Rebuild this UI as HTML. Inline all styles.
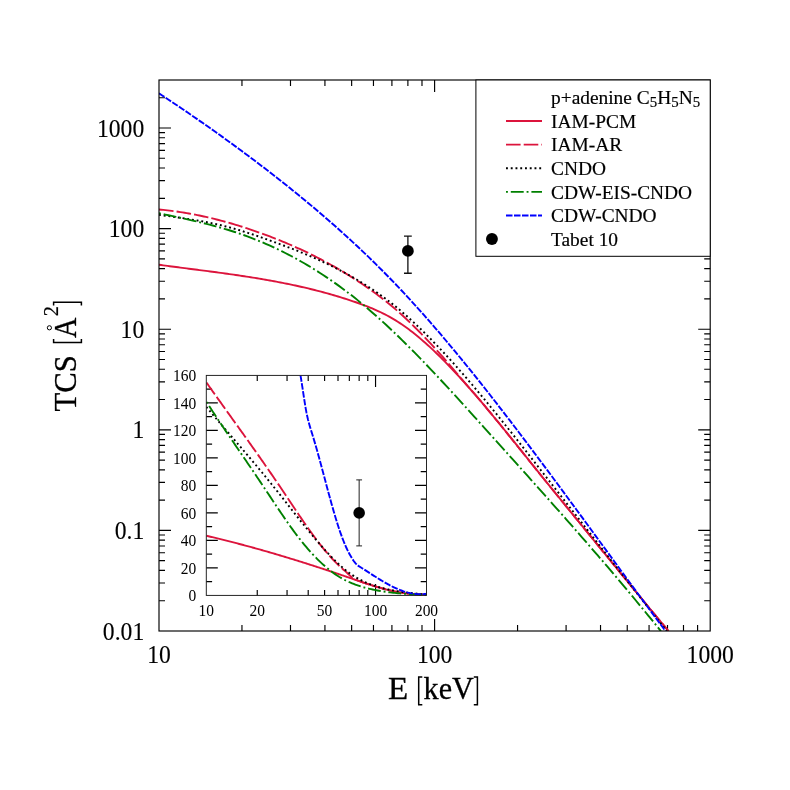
<!DOCTYPE html>
<html><head><meta charset="utf-8"><title>TCS p+adenine</title>
<style>
html,body{margin:0;padding:0;background:#fff;}
body{width:790px;height:790px;overflow:hidden;font-family:"Liberation Serif",serif;}
#wrap{width:790px;height:790px;will-change:transform;}
svg{display:block;}
text{font-family:"Liberation Serif",serif;fill:#000;}
.tk{font-size:25px;stroke:#000;stroke-width:0.12px;}
.itk{font-size:17px;}
.lg{font-size:19.4px;stroke:#000;stroke-width:0.18px;}
.ax{font-size:31.5px;stroke:#000;stroke-width:0.3px;}
</style></head><body>
<div id="wrap"><svg width="790" height="790" viewBox="0 0 790 790">
<rect x="0" y="0" width="790" height="790" fill="#fff"/>
<defs>
<clipPath id="cm"><rect x="159.0" y="80.0" width="551.2" height="551.0"/></clipPath>
<clipPath id="ci"><rect x="206.3" y="375.4" width="220.2" height="220.0"/></clipPath>
</defs>
<path d="M241.96,631.0 v-6 M241.96,80.0 v6 M290.49,631.0 v-6 M290.49,80.0 v6 M324.93,631.0 v-6 M324.93,80.0 v6 M351.64,631.0 v-6 M351.64,80.0 v6 M373.46,631.0 v-6 M373.46,80.0 v6 M391.91,631.0 v-6 M391.91,80.0 v6 M407.89,631.0 v-6 M407.89,80.0 v6 M421.99,631.0 v-6 M421.99,80.0 v6 M434.60,631.0 v-12 M434.60,80.0 v12 M517.56,631.0 v-6 M517.56,80.0 v6 M566.09,631.0 v-6 M566.09,80.0 v6 M600.53,631.0 v-6 M600.53,80.0 v6 M627.24,631.0 v-6 M627.24,80.0 v6 M649.06,631.0 v-6 M649.06,80.0 v6 M667.51,631.0 v-6 M667.51,80.0 v6 M683.49,631.0 v-6 M683.49,80.0 v6 M697.59,631.0 v-6 M697.59,80.0 v6 M159.0,600.72 h6 M710.2,600.72 h-6 M159.0,583.00 h6 M710.2,583.00 h-6 M159.0,570.43 h6 M710.2,570.43 h-6 M159.0,560.68 h6 M710.2,560.68 h-6 M159.0,552.72 h6 M710.2,552.72 h-6 M159.0,545.98 h6 M710.2,545.98 h-6 M159.0,540.15 h6 M710.2,540.15 h-6 M159.0,535.00 h6 M710.2,535.00 h-6 M159.0,530.40 h12 M710.2,530.40 h-12 M159.0,500.12 h6 M710.2,500.12 h-6 M159.0,482.40 h6 M710.2,482.40 h-6 M159.0,469.83 h6 M710.2,469.83 h-6 M159.0,460.08 h6 M710.2,460.08 h-6 M159.0,452.12 h6 M710.2,452.12 h-6 M159.0,445.38 h6 M710.2,445.38 h-6 M159.0,439.55 h6 M710.2,439.55 h-6 M159.0,434.40 h6 M710.2,434.40 h-6 M159.0,429.80 h12 M710.2,429.80 h-12 M159.0,399.52 h6 M710.2,399.52 h-6 M159.0,381.80 h6 M710.2,381.80 h-6 M159.0,369.23 h6 M710.2,369.23 h-6 M159.0,359.48 h6 M710.2,359.48 h-6 M159.0,351.52 h6 M710.2,351.52 h-6 M159.0,344.78 h6 M710.2,344.78 h-6 M159.0,338.95 h6 M710.2,338.95 h-6 M159.0,333.80 h6 M710.2,333.80 h-6 M159.0,329.20 h12 M710.2,329.20 h-12 M159.0,298.92 h6 M710.2,298.92 h-6 M159.0,281.20 h6 M710.2,281.20 h-6 M159.0,268.63 h6 M710.2,268.63 h-6 M159.0,258.88 h6 M710.2,258.88 h-6 M159.0,250.92 h6 M710.2,250.92 h-6 M159.0,244.18 h6 M710.2,244.18 h-6 M159.0,238.35 h6 M710.2,238.35 h-6 M159.0,233.20 h6 M710.2,233.20 h-6 M159.0,228.60 h12 M710.2,228.60 h-12 M159.0,198.32 h6 M710.2,198.32 h-6 M159.0,180.60 h6 M710.2,180.60 h-6 M159.0,168.03 h6 M710.2,168.03 h-6 M159.0,158.28 h6 M710.2,158.28 h-6 M159.0,150.32 h6 M710.2,150.32 h-6 M159.0,143.58 h6 M710.2,143.58 h-6 M159.0,137.75 h6 M710.2,137.75 h-6 M159.0,132.60 h6 M710.2,132.60 h-6 M159.0,128.00 h12 M710.2,128.00 h-12 M159.0,97.71 h6 M710.2,97.71 h-6" stroke="#000" stroke-width="1.15" fill="none" stroke-width="1.1"/>
<g clip-path="url(#cm)" fill="none" stroke-width="1.9">
<path d="M159.00,264.76 L161.13,265.05 L163.26,265.34 L165.40,265.62 L167.53,265.91 L169.66,266.19 L171.79,266.47 L173.92,266.75 L176.05,267.03 L178.19,267.31 L180.32,267.59 L182.45,267.86 L184.58,268.14 L186.71,268.41 L188.85,268.69 L190.98,268.96 L193.11,269.24 L195.24,269.51 L197.37,269.79 L199.50,270.07 L201.64,270.34 L203.77,270.62 L205.90,270.90 L208.03,271.18 L210.16,271.46 L212.29,271.74 L214.43,272.03 L216.56,272.31 L218.69,272.60 L220.82,272.89 L222.95,273.18 L225.09,273.48 L227.22,273.77 L229.35,274.07 L231.48,274.38 L233.61,274.68 L235.74,274.99 L237.88,275.30 L240.01,275.62 L242.14,275.94 L244.27,276.26 L246.40,276.59 L248.54,276.92 L250.67,277.25 L252.80,277.59 L254.93,277.93 L257.06,278.28 L259.19,278.64 L261.33,278.99 L263.46,279.36 L265.59,279.73 L267.72,280.10 L269.85,280.48 L271.99,280.86 L274.12,281.26 L276.25,281.65 L278.38,282.06 L280.51,282.47 L282.64,282.88 L284.78,283.31 L286.91,283.73 L289.04,284.17 L291.17,284.62 L293.30,285.07 L295.44,285.53 L297.57,285.99 L299.70,286.47 L301.83,286.95 L303.96,287.44 L306.09,287.94 L308.23,288.44 L310.36,288.96 L312.49,289.48 L314.62,290.01 L316.75,290.55 L318.88,291.11 L321.02,291.66 L323.15,292.23 L325.28,292.81 L327.41,293.40 L329.54,294.00 L331.68,294.61 L333.81,295.23 L335.94,295.86 L338.07,296.50 L340.20,297.15 L342.33,297.81 L344.47,298.48 L346.60,299.16 L348.73,299.86 L350.86,300.56 L352.99,301.28 L355.13,302.01 L357.26,302.75 L359.39,303.51 L361.52,304.28 L363.65,305.07 L365.78,305.88 L367.92,306.71 L370.05,307.56 L372.18,308.44 L374.31,309.35 L376.44,310.29 L378.58,311.26 L380.71,312.26 L382.84,313.30 L384.97,314.37 L387.10,315.49 L389.23,316.64 L391.37,317.84 L393.50,319.08 L395.63,320.37 L397.76,321.71 L399.89,323.10 L402.03,324.53 L404.16,326.01 L406.29,327.53 L408.42,329.10 L410.55,330.71 L412.68,332.36 L414.82,334.05 L416.95,335.77 L419.08,337.54 L421.21,339.35 L423.34,341.19 L425.47,343.07 L427.61,344.98 L429.74,346.92 L431.87,348.90 L434.00,350.91 L436.13,352.95 L438.27,355.02 L440.40,357.12 L442.53,359.25 L444.66,361.40 L446.79,363.58 L448.92,365.78 L451.06,368.01 L453.19,370.27 L455.32,372.54 L457.45,374.84 L459.58,377.16 L461.72,379.51 L463.85,381.87 L465.98,384.25 L468.11,386.65 L470.24,389.07 L472.37,391.51 L474.51,393.97 L476.64,396.44 L478.77,398.93 L480.90,401.43 L483.03,403.95 L485.17,406.48 L487.30,409.02 L489.43,411.58 L491.56,414.15 L493.69,416.73 L495.82,419.32 L497.96,421.92 L500.09,424.52 L502.22,427.14 L504.35,429.76 L506.48,432.40 L508.62,435.03 L510.75,437.67 L512.88,440.32 L515.01,442.97 L517.14,445.63 L519.27,448.28 L521.41,450.94 L523.54,453.60 L525.67,456.26 L527.80,458.93 L529.93,461.59 L532.06,464.25 L534.20,466.90 L536.33,469.56 L538.46,472.21 L540.59,474.85 L542.72,477.50 L544.86,480.13 L546.99,482.77 L549.12,485.40 L551.25,488.02 L553.38,490.65 L555.51,493.27 L557.65,495.88 L559.78,498.50 L561.91,501.11 L564.04,503.72 L566.17,506.33 L568.31,508.95 L570.44,511.56 L572.57,514.17 L574.70,516.78 L576.83,519.39 L578.96,522.00 L581.10,524.61 L583.23,527.23 L585.36,529.84 L587.49,532.46 L589.62,535.07 L591.76,537.69 L593.89,540.31 L596.02,542.92 L598.15,545.54 L600.28,548.16 L602.41,550.78 L604.55,553.39 L606.68,556.01 L608.81,558.62 L610.94,561.24 L613.07,563.85 L615.21,566.46 L617.34,569.07 L619.47,571.68 L621.60,574.29 L623.73,576.90 L625.86,579.51 L628.00,582.11 L630.13,584.71 L632.26,587.31 L634.39,589.91 L636.52,592.50 L638.65,595.09 L640.79,597.68 L642.92,600.27 L645.05,602.85 L647.18,605.43 L649.31,608.01 L651.45,610.58 L653.58,613.15 L655.71,615.72 L657.84,618.28 L659.97,620.84 L662.10,623.40 L664.24,625.95 L666.37,628.50 L668.50,631.04" stroke="#dc143c"/>
<path d="M159.00,209.50 L161.13,209.69 L163.26,209.91 L165.40,210.13 L167.53,210.37 L169.66,210.62 L171.79,210.89 L173.92,211.17 L176.05,211.46 L178.19,211.77 L180.32,212.09 L182.45,212.42 L184.58,212.76 L186.71,213.12 L188.85,213.49 L190.98,213.88 L193.11,214.28 L195.24,214.69 L197.37,215.11 L199.50,215.55 L201.64,215.99 L203.77,216.45 L205.90,216.93 L208.03,217.41 L210.16,217.91 L212.29,218.42 L214.43,218.94 L216.56,219.47 L218.69,220.02 L220.82,220.57 L222.95,221.14 L225.09,221.72 L227.22,222.32 L229.35,222.92 L231.48,223.53 L233.61,224.16 L235.74,224.80 L237.88,225.45 L240.01,226.11 L242.14,226.78 L244.27,227.46 L246.40,228.15 L248.54,228.86 L250.67,229.57 L252.80,230.30 L254.93,231.03 L257.06,231.78 L259.19,232.54 L261.33,233.30 L263.46,234.08 L265.59,234.87 L267.72,235.67 L269.85,236.48 L271.99,237.30 L274.12,238.12 L276.25,238.97 L278.38,239.82 L280.51,240.68 L282.64,241.55 L284.78,242.44 L286.91,243.34 L289.04,244.25 L291.17,245.17 L293.30,246.10 L295.44,247.05 L297.57,248.01 L299.70,248.98 L301.83,249.97 L303.96,250.97 L306.09,251.98 L308.23,253.00 L310.36,254.04 L312.49,255.09 L314.62,256.16 L316.75,257.24 L318.88,258.34 L321.02,259.45 L323.15,260.57 L325.28,261.71 L327.41,262.86 L329.54,264.03 L331.68,265.22 L333.81,266.42 L335.94,267.63 L338.07,268.87 L340.20,270.11 L342.33,271.38 L344.47,272.66 L346.60,273.96 L348.73,275.27 L350.86,276.60 L352.99,277.95 L355.13,279.32 L357.26,280.70 L359.39,282.10 L361.52,283.52 L363.65,284.96 L365.78,286.42 L367.92,287.90 L370.05,289.40 L372.18,290.93 L374.31,292.48 L376.44,294.05 L378.58,295.65 L380.71,297.27 L382.84,298.92 L384.97,300.60 L387.10,302.30 L389.23,304.03 L391.37,305.79 L393.50,307.58 L395.63,309.40 L397.76,311.25 L399.89,313.14 L402.03,315.05 L404.16,317.00 L406.29,318.98 L408.42,320.99 L410.55,323.03 L412.68,325.10 L414.82,327.20 L416.95,329.33 L419.08,331.48 L421.21,333.66 L423.34,335.87 L425.47,338.10 L427.61,340.35 L429.74,342.63 L431.87,344.92 L434.00,347.24 L436.13,349.58 L438.27,351.93 L440.40,354.30 L442.53,356.71 L444.66,359.16 L446.79,361.65 L448.92,364.15 L451.06,366.66 L453.19,369.16 L455.32,371.67 L457.45,374.17 L459.58,376.66 L461.72,379.14 L463.85,381.62 L465.98,384.09 L468.11,386.56 L470.24,389.02 L472.37,391.49 L474.51,393.96 L476.64,396.44 L478.77,398.93 L480.90,401.43 L483.03,403.95 L485.17,406.48 L487.30,409.02 L489.43,411.58 L491.56,414.15 L493.69,416.73 L495.82,419.32 L497.96,421.92 L500.09,424.52 L502.22,427.14 L504.35,429.76 L506.48,432.40 L508.62,435.03 L510.75,437.67 L512.88,440.32 L515.01,442.97 L517.14,445.63 L519.27,448.28 L521.41,450.94 L523.54,453.60 L525.67,456.26 L527.80,458.93 L529.93,461.59 L532.06,464.25 L534.20,466.90 L536.33,469.56 L538.46,472.21 L540.59,474.85 L542.72,477.50 L544.86,480.13 L546.99,482.77 L549.12,485.40 L551.25,488.02 L553.38,490.65 L555.51,493.27 L557.65,495.88 L559.78,498.50 L561.91,501.11 L564.04,503.72 L566.17,506.33 L568.31,508.95 L570.44,511.56 L572.57,514.17 L574.70,516.78 L576.83,519.39 L578.96,522.00 L581.10,524.61 L583.23,527.23 L585.36,529.84 L587.49,532.46 L589.62,535.07 L591.76,537.69 L593.89,540.31 L596.02,542.92 L598.15,545.54 L600.28,548.16 L602.41,550.78 L604.55,553.39 L606.68,556.01 L608.81,558.62 L610.94,561.24 L613.07,563.85 L615.21,566.46 L617.34,569.07 L619.47,571.68 L621.60,574.29 L623.73,576.90 L625.86,579.51 L628.00,582.11 L630.13,584.71 L632.26,587.31 L634.39,589.91 L636.52,592.50 L638.65,595.09 L640.79,597.68 L642.92,600.27 L645.05,602.85 L647.18,605.43 L649.31,608.01 L651.45,610.58 L653.58,613.15 L655.71,615.72 L657.84,618.28 L659.97,620.84 L662.10,623.40 L664.24,625.95 L666.37,628.50 L668.50,631.04" stroke="#dc143c" stroke-dasharray="14.6,3.1"/>
<path d="M159.00,214.90 L162.19,215.33 L165.39,215.75 L168.58,216.18 L171.77,216.62 L174.97,217.06 L178.16,217.51 L181.36,217.97 L184.55,218.44 L187.74,218.93 L190.94,219.43 L194.13,219.95 L197.32,220.48 L200.52,221.04 L203.71,221.62 L206.91,222.23 L210.10,222.86 L213.29,223.52 L216.49,224.21 L219.68,224.94 L222.87,225.69 L226.07,226.48 L229.26,227.31 L232.46,228.18 L235.65,229.08 L238.84,230.02 L242.04,231.00 L245.23,232.00 L248.42,233.04 L251.62,234.09 L254.81,235.17 L258.01,236.26 L261.20,237.38 L264.39,238.50 L267.59,239.64 L270.78,240.78 L273.97,241.94 L277.17,243.11 L280.36,244.29 L283.55,245.49 L286.75,246.70 L289.94,247.93 L293.14,249.17 L296.33,250.44 L299.52,251.73 L302.72,253.03 L305.91,254.36 L309.10,255.72 L312.30,257.09 L315.49,258.49 L318.69,259.92 L321.88,261.38 L325.07,262.87 L328.27,264.39 L331.46,265.95 L334.65,267.53 L337.85,269.16 L341.04,270.82 L344.24,272.52 L347.43,274.26 L350.62,276.04 L353.82,277.86 L357.01,279.73 L360.20,281.64 L363.40,283.60 L366.59,285.61 L369.78,287.68 L372.98,289.80 L376.17,291.97 L379.37,294.20 L382.56,296.50 L385.75,298.85 L388.95,301.28 L392.14,303.76 L395.33,306.32 L398.53,308.95 L401.72,311.65 L404.92,314.43 L408.11,317.27 L411.30,320.17 L414.50,323.14 L417.69,326.17 L420.88,329.24 L424.08,332.37 L427.27,335.55 L430.47,338.78 L433.66,342.05 L436.85,345.37 L440.05,348.73 L443.24,352.13 L446.43,355.58 L449.63,359.07 L452.82,362.59 L456.02,366.16 L459.21,369.76 L462.40,373.39 L465.60,377.06 L468.79,380.76 L471.98,384.50 L475.18,388.26 L478.37,392.05 L481.56,395.87 L484.76,399.72 L487.95,403.59 L491.15,407.48 L494.34,411.40 L497.53,415.34 L500.73,419.29 L503.92,423.27 L507.11,427.26 L510.31,431.27 L513.50,435.29 L516.70,439.33 L519.89,443.38 L523.08,447.43 L526.28,451.50 L529.47,455.58 L532.66,459.66 L535.86,463.75 L539.05,467.84 L542.25,471.94 L545.44,476.04 L548.63,480.14 L551.83,484.23 L555.02,488.33 L558.21,492.43 L561.41,496.54 L564.60,500.64 L567.79,504.74 L570.99,508.84 L574.18,512.94 L577.38,517.04 L580.57,521.13 L583.76,525.23 L586.96,529.33 L590.15,533.42 L593.34,537.52 L596.54,541.61 L599.73,545.70 L602.93,549.79 L606.12,553.88 L609.31,557.97 L612.51,562.05 L615.70,566.13 L618.89,570.21 L622.09,574.29 L625.28,578.36 L628.48,582.43 L631.67,586.50 L634.86,590.56 L638.06,594.62 L641.25,598.68 L644.44,602.73 L647.64,606.78 L650.83,610.83 L654.03,614.87 L657.22,618.90 L660.41,622.94 L663.61,626.96 L666.80,630.99" stroke="#000" stroke-dasharray="1.9,2.85"/>
<path d="M159.00,213.19 L162.16,213.88 L165.31,214.56 L168.47,215.24 L171.63,215.92 L174.78,216.61 L177.94,217.29 L181.10,217.98 L184.25,218.68 L187.41,219.38 L190.57,220.10 L193.72,220.82 L196.88,221.56 L200.04,222.31 L203.19,223.08 L206.35,223.86 L209.51,224.67 L212.66,225.50 L215.82,226.35 L218.98,227.22 L222.13,228.12 L225.29,229.05 L228.45,230.00 L231.60,230.99 L234.76,232.01 L237.92,233.06 L241.07,234.15 L244.23,235.27 L247.38,236.42 L250.54,237.61 L253.70,238.83 L256.85,240.09 L260.01,241.38 L263.17,242.70 L266.32,244.07 L269.48,245.46 L272.64,246.90 L275.79,248.37 L278.95,249.87 L282.11,251.42 L285.26,253.00 L288.42,254.62 L291.58,256.27 L294.73,257.97 L297.89,259.70 L301.05,261.48 L304.20,263.29 L307.36,265.14 L310.52,267.03 L313.67,268.96 L316.83,270.93 L319.99,272.95 L323.14,275.00 L326.30,277.09 L329.46,279.23 L332.61,281.41 L335.77,283.63 L338.93,285.89 L342.08,288.20 L345.24,290.54 L348.40,292.94 L351.55,295.37 L354.71,297.85 L357.87,300.38 L361.02,302.95 L364.18,305.56 L367.34,308.22 L370.49,310.92 L373.65,313.67 L376.81,316.46 L379.96,319.28 L383.12,322.15 L386.28,325.05 L389.43,327.99 L392.59,330.97 L395.75,333.98 L398.90,337.02 L402.06,340.10 L405.22,343.21 L408.37,346.34 L411.53,349.51 L414.68,352.70 L417.84,355.92 L421.00,359.17 L424.15,362.44 L427.31,365.73 L430.47,369.04 L433.62,372.38 L436.78,375.73 L439.94,379.10 L443.09,382.49 L446.25,385.90 L449.41,389.32 L452.56,392.75 L455.72,396.20 L458.88,399.66 L462.03,403.13 L465.19,406.60 L468.35,410.09 L471.50,413.58 L474.66,417.08 L477.82,420.58 L480.97,424.09 L484.13,427.59 L487.29,431.10 L490.44,434.61 L493.60,438.12 L496.76,441.63 L499.91,445.14 L503.07,448.64 L506.23,452.15 L509.38,455.66 L512.54,459.17 L515.70,462.68 L518.85,466.19 L522.01,469.70 L525.17,473.22 L528.32,476.74 L531.48,480.26 L534.64,483.78 L537.79,487.31 L540.95,490.84 L544.11,494.38 L547.26,497.92 L550.42,501.46 L553.58,505.01 L556.73,508.57 L559.89,512.13 L563.05,515.70 L566.20,519.28 L569.36,522.86 L572.52,526.45 L575.67,530.04 L578.83,533.65 L581.98,537.26 L585.14,540.88 L588.30,544.51 L591.45,548.15 L594.61,551.80 L597.77,555.46 L600.92,559.12 L604.08,562.80 L607.24,566.49 L610.39,570.19 L613.55,573.90 L616.71,577.63 L619.86,581.36 L623.02,585.11 L626.18,588.87 L629.33,592.65 L632.49,596.43 L635.65,600.24 L638.80,604.05 L641.96,607.88 L645.12,611.73 L648.27,615.59 L651.43,619.46 L654.59,623.35 L657.74,627.26 L660.90,631.18" stroke="#008000" stroke-dasharray="1.9,2.9,12.9,2.9"/>
<path d="M159.00,93.32 L162.19,95.43 L165.37,97.54 L168.56,99.67 L171.74,101.80 L174.93,103.94 L178.11,106.08 L181.30,108.24 L184.48,110.40 L187.67,112.58 L190.86,114.76 L194.04,116.95 L197.23,119.15 L200.41,121.36 L203.60,123.58 L206.78,125.81 L209.97,128.05 L213.15,130.30 L216.34,132.56 L219.53,134.83 L222.71,137.12 L225.90,139.41 L229.08,141.71 L232.27,144.03 L235.45,146.36 L238.64,148.70 L241.82,151.05 L245.01,153.41 L248.19,155.78 L251.38,158.17 L254.57,160.57 L257.75,162.98 L260.94,165.41 L264.12,167.85 L267.31,170.30 L270.49,172.76 L273.68,175.24 L276.86,177.74 L280.05,180.24 L283.24,182.76 L286.42,185.30 L289.61,187.85 L292.79,190.41 L295.98,192.99 L299.16,195.59 L302.35,198.20 L305.53,200.83 L308.72,203.48 L311.91,206.14 L315.09,208.82 L318.28,211.52 L321.46,214.24 L324.65,216.98 L327.83,219.74 L331.02,222.52 L334.20,225.32 L337.39,228.15 L340.58,230.99 L343.76,233.86 L346.95,236.75 L350.13,239.67 L353.32,242.61 L356.50,245.57 L359.69,248.56 L362.87,251.58 L366.06,254.62 L369.25,257.69 L372.43,260.79 L375.62,263.92 L378.80,267.07 L381.99,270.25 L385.17,273.46 L388.36,276.71 L391.54,279.98 L394.73,283.28 L397.92,286.62 L401.10,289.98 L404.29,293.38 L407.47,296.81 L410.66,300.27 L413.84,303.77 L417.03,307.29 L420.21,310.84 L423.40,314.42 L426.58,318.03 L429.77,321.66 L432.96,325.33 L436.14,329.02 L439.33,332.73 L442.51,336.47 L445.70,340.24 L448.88,344.03 L452.07,347.85 L455.25,351.68 L458.44,355.54 L461.63,359.43 L464.81,363.33 L468.00,367.26 L471.18,371.20 L474.37,375.17 L477.55,379.15 L480.74,383.16 L483.92,387.18 L487.11,391.22 L490.30,395.28 L493.48,399.35 L496.67,403.44 L499.85,407.55 L503.04,411.67 L506.22,415.80 L509.41,419.95 L512.59,424.11 L515.78,428.29 L518.97,432.47 L522.15,436.67 L525.34,440.88 L528.52,445.11 L531.71,449.34 L534.89,453.58 L538.08,457.83 L541.26,462.10 L544.45,466.37 L547.64,470.65 L550.82,474.93 L554.01,479.23 L557.19,483.53 L560.38,487.84 L563.56,492.16 L566.75,496.48 L569.93,500.81 L573.12,505.14 L576.31,509.48 L579.49,513.82 L582.68,518.16 L585.86,522.51 L589.05,526.86 L592.23,531.21 L595.42,535.57 L598.60,539.93 L601.79,544.29 L604.97,548.65 L608.16,553.01 L611.35,557.37 L614.53,561.72 L617.72,566.08 L620.90,570.44 L624.09,574.79 L627.27,579.15 L630.46,583.50 L633.64,587.84 L636.83,592.19 L640.02,596.52 L643.20,600.86 L646.39,605.19 L649.57,609.51 L652.76,613.83 L655.94,618.14 L659.13,622.45 L662.31,626.75 L665.50,631.04" stroke="#0000ff" stroke-dasharray="6.5,1.5"/>
</g>
<path d="M407.89,236.22 V273.23 M403.99,236.22 h7.8 M403.99,273.23 h7.8" stroke="#111" stroke-width="1.3" fill="none"/>
<circle cx="407.89" cy="250.92" r="5.9" fill="#000"/>
<rect x="159.0" y="80.0" width="551.20" height="551.00" stroke="#000" stroke-width="1.15" fill="none"/>
<rect x="475.9" y="80.0" width="234.30" height="176.30" fill="#fff" stroke="#000" stroke-width="1.0"/>
<g fill="none" stroke-width="1.9">
<path d="M506.0,120.95 H542.0" stroke="#dc143c"/>
<path d="M506.0,144.6 H542.0" stroke="#dc143c" stroke-dasharray="14.6,3.1"/>
<path d="M506.0,168.2 H542.0" stroke="#000" stroke-dasharray="1.9,2.85"/>
<path d="M506.0,191.9 H542.0" stroke="#008000" stroke-dasharray="1.9,2.9,12.9,2.9"/>
<path d="M506.0,215.5 H542.0" stroke="#0000ff" stroke-dasharray="6.5,1.5"/>
</g>
<circle cx="491.95" cy="239.0" r="5.95" fill="#000"/>
<text class="lg" x="551.0" y="103.5">p+adenine C<tspan font-size="14.9" dy="3.9">5</tspan><tspan dy="-3.9">H</tspan><tspan font-size="14.9" dy="3.9">5</tspan><tspan dy="-3.9">N</tspan><tspan font-size="14.9" dy="3.9">5</tspan></text>
<text class="lg" x="551.0" y="127.5">IAM-PCM</text>
<text class="lg" x="551.0" y="151.2">IAM-AR</text>
<text class="lg" x="551.0" y="174.9">CNDO</text>
<text class="lg" x="551.0" y="198.6">CDW-EIS-CNDO</text>
<text class="lg" x="551.0" y="222.3">CDW-CNDO</text>
<text class="lg" x="551.0" y="246.0">Tabet 10</text>
<text class="tk" text-anchor="end" x="144.20" y="136.60" textLength="47.25" lengthAdjust="spacingAndGlyphs">1000</text>
<text class="tk" text-anchor="end" x="144.20" y="237.20" textLength="35.44" lengthAdjust="spacingAndGlyphs">100</text>
<text class="tk" text-anchor="end" x="144.20" y="337.80" textLength="23.62" lengthAdjust="spacingAndGlyphs">10</text>
<text class="tk" text-anchor="end" x="144.20" y="438.40" textLength="11.81" lengthAdjust="spacingAndGlyphs">1</text>
<text class="tk" text-anchor="end" x="144.20" y="539.00" textLength="29.53" lengthAdjust="spacingAndGlyphs">0.1</text>
<text class="tk" text-anchor="end" x="144.20" y="639.60" textLength="41.34" lengthAdjust="spacingAndGlyphs">0.01</text>
<text class="tk" text-anchor="middle" x="159.00" y="662.60" textLength="23.62" lengthAdjust="spacingAndGlyphs">10</text>
<text class="tk" text-anchor="middle" x="434.60" y="662.60" textLength="35.44" lengthAdjust="spacingAndGlyphs">100</text>
<text class="tk" text-anchor="middle" x="710.20" y="662.60" textLength="47.25" lengthAdjust="spacingAndGlyphs">1000</text>
<text class="ax" x="388.0" y="698.8" textLength="20.2" lengthAdjust="spacingAndGlyphs">E</text>
<path d="M422.3,676.9 H418.7 V704.7 H422.3 M473.8,676.9 H477.4 V704.7 H473.8" stroke="#000" stroke-width="1.5" fill="none"/>
<text class="ax" x="423.6" y="698.8" textLength="50.2" lengthAdjust="spacingAndGlyphs">keV</text>
<g transform="translate(75.6,411.2) rotate(-90)">
<text class="ax" x="-0.3" y="0" textLength="56.3" lengthAdjust="spacingAndGlyphs">TCS</text>
<path d="M72.2,-22.0 H68.7 V5.8 H72.2 M105.6,-22.0 H109.0 V5.8 H105.6" stroke="#000" stroke-width="1.5" fill="none"/>
<text class="ax" x="73.3" y="0" textLength="20.4" lengthAdjust="spacingAndGlyphs">A</text>
<circle cx="83.4" cy="-26.2" r="2.1" fill="none" stroke="#000" stroke-width="1.0"/>
<text x="95.0" y="-17.8" font-size="20.4" style="stroke:#000;stroke-width:0.2px">2</text>
</g>
<rect x="206.3" y="375.4" width="220.20" height="220.00" fill="#fff" stroke="none"/>
<path d="M257.25,595.4 v-5.5 M257.25,375.4 v5.5 M287.05,595.4 v-5.5 M287.05,375.4 v5.5 M308.20,595.4 v-5.5 M308.20,375.4 v5.5 M324.60,595.4 v-5.5 M324.60,375.4 v5.5 M338.00,595.4 v-5.5 M338.00,375.4 v5.5 M349.33,595.4 v-5.5 M349.33,375.4 v5.5 M359.15,595.4 v-5.5 M359.15,375.4 v5.5 M367.81,595.4 v-5.5 M367.81,375.4 v5.5 M375.55,595.4 v-11.5 M375.55,375.4 v11.5 M206.3,581.65 h5.8 M426.5,581.65 h-5.8 M206.3,567.90 h11.5 M426.5,567.90 h-11.5 M206.3,554.15 h5.8 M426.5,554.15 h-5.8 M206.3,540.40 h11.5 M426.5,540.40 h-11.5 M206.3,526.65 h5.8 M426.5,526.65 h-5.8 M206.3,512.90 h11.5 M426.5,512.90 h-11.5 M206.3,499.15 h5.8 M426.5,499.15 h-5.8 M206.3,485.40 h11.5 M426.5,485.40 h-11.5 M206.3,471.65 h5.8 M426.5,471.65 h-5.8 M206.3,457.90 h11.5 M426.5,457.90 h-11.5 M206.3,444.15 h5.8 M426.5,444.15 h-5.8 M206.3,430.40 h11.5 M426.5,430.40 h-11.5 M206.3,416.65 h5.8 M426.5,416.65 h-5.8 M206.3,402.90 h11.5 M426.5,402.90 h-11.5 M206.3,389.15 h5.8 M426.5,389.15 h-5.8" stroke="#000" stroke-width="1.15" fill="none" stroke-width="1.1"/>
<g clip-path="url(#ci)" fill="none" stroke-width="1.9">
<path d="M206.40,535.79 L207.40,536.02 L208.40,536.25 L209.40,536.49 L210.40,536.72 L211.40,536.96 L212.40,537.20 L213.40,537.44 L214.40,537.68 L215.40,537.92 L216.40,538.16 L217.41,538.40 L218.41,538.64 L219.41,538.89 L220.41,539.13 L221.41,539.38 L222.41,539.63 L223.41,539.88 L224.41,540.12 L225.41,540.37 L226.41,540.63 L227.41,540.88 L228.41,541.13 L229.41,541.39 L230.41,541.64 L231.41,541.90 L232.41,542.15 L233.41,542.41 L234.41,542.67 L235.41,542.93 L236.41,543.19 L237.41,543.45 L238.41,543.71 L239.42,543.98 L240.42,544.24 L241.42,544.51 L242.42,544.77 L243.42,545.04 L244.42,545.31 L245.42,545.58 L246.42,545.84 L247.42,546.12 L248.42,546.39 L249.42,546.66 L250.42,546.93 L251.42,547.21 L252.42,547.48 L253.42,547.76 L254.42,548.03 L255.42,548.31 L256.42,548.59 L257.42,548.87 L258.42,549.15 L259.42,549.43 L260.42,549.71 L261.43,549.99 L262.43,550.28 L263.43,550.56 L264.43,550.85 L265.43,551.13 L266.43,551.42 L267.43,551.71 L268.43,551.99 L269.43,552.28 L270.43,552.57 L271.43,552.86 L272.43,553.16 L273.43,553.45 L274.43,553.74 L275.43,554.03 L276.43,554.33 L277.43,554.63 L278.43,554.92 L279.43,555.22 L280.43,555.52 L281.43,555.82 L282.43,556.11 L283.44,556.41 L284.44,556.72 L285.44,557.02 L286.44,557.32 L287.44,557.62 L288.44,557.93 L289.44,558.23 L290.44,558.54 L291.44,558.84 L292.44,559.15 L293.44,559.46 L294.44,559.77 L295.44,560.08 L296.44,560.39 L297.44,560.70 L298.44,561.01 L299.44,561.32 L300.44,561.63 L301.44,561.95 L302.44,562.26 L303.44,562.58 L304.44,562.89 L305.44,563.21 L306.45,563.52 L307.45,563.84 L308.45,564.16 L309.45,564.48 L310.45,564.80 L311.45,565.12 L312.45,565.44 L313.45,565.76 L314.45,566.08 L315.45,566.41 L316.45,566.73 L317.45,567.06 L318.45,567.38 L319.45,567.71 L320.45,568.03 L321.45,568.36 L322.45,568.69 L323.45,569.02 L324.45,569.34 L325.45,569.67 L326.45,570.00 L327.46,570.34 L328.46,570.67 L329.46,571.00 L330.46,571.33 L331.46,571.66 L332.46,572.00 L333.46,572.33 L334.46,572.67 L335.46,573.00 L336.46,573.34 L337.46,573.68 L338.46,574.01 L339.46,574.35 L340.46,574.69 L341.46,575.03 L342.46,575.37 L343.46,575.71 L344.46,576.05 L345.46,576.39 L346.46,576.73 L347.46,577.08 L348.46,577.42 L349.47,577.76 L350.47,578.11 L351.47,578.45 L352.47,578.80 L353.47,579.14 L354.47,579.49 L355.47,579.83 L356.47,580.18 L357.47,580.52 L358.47,580.87 L359.47,581.21 L360.47,581.55 L361.47,581.89 L362.47,582.23 L363.47,582.57 L364.47,582.91 L365.47,583.24 L366.47,583.57 L367.47,583.90 L368.47,584.23 L369.47,584.56 L370.47,584.88 L371.48,585.20 L372.48,585.52 L373.48,585.83 L374.48,586.14 L375.48,586.45 L376.48,586.75 L377.48,587.05 L378.48,587.35 L379.48,587.64 L380.48,587.93 L381.48,588.21 L382.48,588.49 L383.48,588.76 L384.48,589.03 L385.48,589.29 L386.48,589.55 L387.48,589.80 L388.48,590.05 L389.48,590.29 L390.48,590.53 L391.48,590.76 L392.48,590.98 L393.49,591.19 L394.49,591.40 L395.49,591.61 L396.49,591.80 L397.49,591.99 L398.49,592.17 L399.49,592.35 L400.49,592.52 L401.49,592.68 L402.49,592.84 L403.49,592.98 L404.49,593.12 L405.49,593.26 L406.49,593.39 L407.49,593.51 L408.49,593.62 L409.49,593.73 L410.49,593.83 L411.49,593.92 L412.49,594.01 L413.49,594.09 L414.49,594.16 L415.50,594.23 L416.50,594.29 L417.50,594.34 L418.50,594.39 L419.50,594.43 L420.50,594.46 L421.50,594.49 L422.50,594.50 L423.50,594.52 L424.50,594.52 L425.50,594.52 L426.50,594.51" stroke="#dc143c"/>
<path d="M206.40,382.43 L207.40,383.85 L208.40,385.27 L209.40,386.69 L210.40,388.10 L211.40,389.52 L212.40,390.93 L213.40,392.34 L214.40,393.75 L215.40,395.15 L216.40,396.56 L217.41,397.96 L218.41,399.37 L219.41,400.77 L220.41,402.17 L221.41,403.57 L222.41,404.97 L223.41,406.37 L224.41,407.77 L225.41,409.16 L226.41,410.56 L227.41,411.96 L228.41,413.35 L229.41,414.75 L230.41,416.14 L231.41,417.54 L232.41,418.93 L233.41,420.33 L234.41,421.72 L235.41,423.12 L236.41,424.51 L237.41,425.91 L238.41,427.30 L239.42,428.70 L240.42,430.10 L241.42,431.49 L242.42,432.89 L243.42,434.29 L244.42,435.69 L245.42,437.09 L246.42,438.49 L247.42,439.89 L248.42,441.30 L249.42,442.70 L250.42,444.11 L251.42,445.52 L252.42,446.93 L253.42,448.34 L254.42,449.75 L255.42,451.17 L256.42,452.58 L257.42,454.00 L258.42,455.42 L259.42,456.84 L260.42,458.27 L261.43,459.69 L262.43,461.12 L263.43,462.55 L264.43,463.98 L265.43,465.42 L266.43,466.86 L267.43,468.30 L268.43,469.74 L269.43,471.19 L270.43,472.64 L271.43,474.09 L272.43,475.55 L273.43,477.01 L274.43,478.47 L275.43,479.94 L276.43,481.40 L277.43,482.88 L278.43,484.35 L279.43,485.83 L280.43,487.31 L281.43,488.80 L282.43,490.29 L283.44,491.78 L284.44,493.28 L285.44,494.78 L286.44,496.27 L287.44,497.77 L288.44,499.27 L289.44,500.77 L290.44,502.27 L291.44,503.77 L292.44,505.27 L293.44,506.76 L294.44,508.25 L295.44,509.74 L296.44,511.23 L297.44,512.71 L298.44,514.19 L299.44,515.67 L300.44,517.14 L301.44,518.61 L302.44,520.06 L303.44,521.52 L304.44,522.96 L305.44,524.40 L306.45,525.84 L307.45,527.26 L308.45,528.68 L309.45,530.08 L310.45,531.48 L311.45,532.87 L312.45,534.24 L313.45,535.61 L314.45,536.97 L315.45,538.31 L316.45,539.64 L317.45,540.96 L318.45,542.27 L319.45,543.56 L320.45,544.84 L321.45,546.11 L322.45,547.36 L323.45,548.59 L324.45,549.81 L325.45,551.02 L326.45,552.21 L327.46,553.38 L328.46,554.54 L329.46,555.68 L330.46,556.80 L331.46,557.90 L332.46,558.99 L333.46,560.06 L334.46,561.11 L335.46,562.14 L336.46,563.15 L337.46,564.14 L338.46,565.11 L339.46,566.06 L340.46,566.99 L341.46,567.90 L342.46,568.79 L343.46,569.66 L344.46,570.51 L345.46,571.36 L346.46,572.28 L347.46,573.25 L348.46,574.22 L349.47,575.17 L350.47,576.08 L351.47,576.92 L352.47,577.70 L353.47,578.39 L354.47,579.01 L355.47,579.56 L356.47,580.04 L357.47,580.47 L358.47,580.85 L359.47,581.21 L360.47,581.55 L361.47,581.89 L362.47,582.23 L363.47,582.57 L364.47,582.91 L365.47,583.24 L366.47,583.57 L367.47,583.90 L368.47,584.23 L369.47,584.56 L370.47,584.88 L371.48,585.20 L372.48,585.52 L373.48,585.83 L374.48,586.14 L375.48,586.45 L376.48,586.75 L377.48,587.05 L378.48,587.35 L379.48,587.64 L380.48,587.93 L381.48,588.21 L382.48,588.49 L383.48,588.76 L384.48,589.03 L385.48,589.29 L386.48,589.55 L387.48,589.80 L388.48,590.05 L389.48,590.29 L390.48,590.53 L391.48,590.76 L392.48,590.98 L393.49,591.19 L394.49,591.40 L395.49,591.61 L396.49,591.80 L397.49,591.99 L398.49,592.17 L399.49,592.35 L400.49,592.52 L401.49,592.68 L402.49,592.84 L403.49,592.98 L404.49,593.12 L405.49,593.26 L406.49,593.39 L407.49,593.51 L408.49,593.62 L409.49,593.73 L410.49,593.83 L411.49,593.92 L412.49,594.01 L413.49,594.09 L414.49,594.16 L415.50,594.23 L416.50,594.29 L417.50,594.34 L418.50,594.39 L419.50,594.43 L420.50,594.46 L421.50,594.49 L422.50,594.50 L423.50,594.52 L424.50,594.52 L425.50,594.52 L426.50,594.51" stroke="#dc143c" stroke-dasharray="14.6,3.1"/>
<path d="M206.30,406.88 L207.88,408.77 L209.47,410.66 L211.05,412.54 L212.64,414.42 L214.22,416.29 L215.81,418.15 L217.39,420.01 L218.97,421.87 L220.56,423.73 L222.14,425.58 L223.73,427.43 L225.31,429.28 L226.89,431.13 L228.48,432.97 L230.06,434.82 L231.65,436.66 L233.23,438.51 L234.82,440.35 L236.40,442.20 L237.98,444.04 L239.57,445.89 L241.15,447.74 L242.74,449.60 L244.32,451.45 L245.90,453.31 L247.49,455.17 L249.07,457.04 L250.66,458.91 L252.24,460.78 L253.83,462.66 L255.41,464.54 L256.99,466.43 L258.58,468.33 L260.16,470.23 L261.75,472.14 L263.33,474.06 L264.91,475.99 L266.50,477.92 L268.08,479.86 L269.67,481.81 L271.25,483.77 L272.84,485.74 L274.42,487.72 L276.00,489.71 L277.59,491.70 L279.17,493.70 L280.76,495.71 L282.34,497.72 L283.92,499.73 L285.51,501.75 L287.09,503.77 L288.68,505.79 L290.26,507.81 L291.85,509.83 L293.43,511.84 L295.01,513.86 L296.60,515.86 L298.18,517.87 L299.77,519.86 L301.35,521.85 L302.93,523.84 L304.52,525.81 L306.10,527.77 L307.69,529.72 L309.27,531.66 L310.86,533.59 L312.44,535.50 L314.02,537.40 L315.61,539.28 L317.19,541.14 L318.78,542.99 L320.36,544.82 L321.94,546.63 L323.53,548.42 L325.11,550.18 L326.70,551.92 L328.28,553.64 L329.87,555.33 L331.45,556.98 L333.03,558.61 L334.62,560.20 L336.20,561.76 L337.79,563.27 L339.37,564.75 L340.95,566.18 L342.54,567.57 L344.12,568.92 L345.71,570.21 L347.29,571.45 L348.88,572.64 L350.46,573.78 L352.04,574.87 L353.63,575.91 L355.21,576.91 L356.80,577.85 L358.38,578.76 L359.96,579.62 L361.55,580.44 L363.13,581.22 L364.72,581.96 L366.30,582.67 L367.89,583.34 L369.47,583.98 L371.05,584.58 L372.64,585.16 L374.22,585.71 L375.81,586.23 L377.39,586.72 L378.97,587.19 L380.56,587.64 L382.14,588.06 L383.73,588.47 L385.31,588.85 L386.90,589.21 L388.48,589.55 L390.06,589.88 L391.65,590.19 L393.23,590.48 L394.82,590.76 L396.40,591.02 L397.98,591.28 L399.57,591.52 L401.15,591.75 L402.74,591.97 L404.32,592.18 L405.91,592.38 L407.49,592.57 L409.07,592.76 L410.66,592.95 L412.24,593.13 L413.83,593.31 L415.41,593.48 L416.99,593.66 L418.58,593.83 L420.16,594.01 L421.75,594.19 L423.33,594.37 L424.92,594.55 L426.50,594.74" stroke="#000" stroke-dasharray="1.9,2.85"/>
<path d="M206.50,401.96 L208.08,404.40 L209.67,406.83 L211.25,409.25 L212.83,411.66 L214.41,414.06 L216.00,416.46 L217.58,418.84 L219.16,421.21 L220.74,423.58 L222.33,425.93 L223.91,428.29 L225.49,430.63 L227.08,432.97 L228.66,435.31 L230.24,437.64 L231.82,439.97 L233.41,442.29 L234.99,444.61 L236.57,446.93 L238.15,449.25 L239.74,451.57 L241.32,453.88 L242.90,456.20 L244.49,458.52 L246.07,460.84 L247.65,463.16 L249.23,465.48 L250.82,467.81 L252.40,470.14 L253.98,472.47 L255.56,474.81 L257.15,477.16 L258.73,479.51 L260.31,481.86 L261.90,484.23 L263.48,486.60 L265.06,488.98 L266.64,491.36 L268.23,493.75 L269.81,496.14 L271.39,498.53 L272.97,500.92 L274.56,503.30 L276.14,505.67 L277.72,508.04 L279.31,510.40 L280.89,512.74 L282.47,515.07 L284.05,517.39 L285.64,519.68 L287.22,521.96 L288.80,524.21 L290.38,526.44 L291.97,528.64 L293.55,530.82 L295.13,532.96 L296.72,535.07 L298.30,537.15 L299.88,539.19 L301.46,541.19 L303.05,543.16 L304.63,545.09 L306.21,546.97 L307.79,548.82 L309.38,550.63 L310.96,552.39 L312.54,554.12 L314.13,555.81 L315.71,557.45 L317.29,559.06 L318.87,560.62 L320.46,562.14 L322.04,563.61 L323.62,565.05 L325.21,566.44 L326.79,567.79 L328.37,569.09 L329.95,570.35 L331.54,571.57 L333.12,572.74 L334.70,573.86 L336.28,574.94 L337.87,575.98 L339.45,576.97 L341.03,577.91 L342.62,578.81 L344.20,579.66 L345.78,580.48 L347.36,581.25 L348.95,581.99 L350.53,582.69 L352.11,583.35 L353.69,583.98 L355.28,584.58 L356.86,585.15 L358.44,585.69 L360.03,586.20 L361.61,586.69 L363.19,587.16 L364.77,587.60 L366.36,588.02 L367.94,588.43 L369.52,588.81 L371.10,589.18 L372.69,589.53 L374.27,589.86 L375.85,590.18 L377.44,590.48 L379.02,590.77 L380.60,591.04 L382.18,591.30 L383.77,591.54 L385.35,591.77 L386.93,591.99 L388.51,592.20 L390.10,592.40 L391.68,592.58 L393.26,592.76 L394.85,592.92 L396.43,593.08 L398.01,593.23 L399.59,593.37 L401.18,593.50 L402.76,593.63 L404.34,593.75 L405.92,593.87 L407.51,593.98 L409.09,594.09 L410.67,594.19 L412.26,594.29 L413.84,594.39 L415.42,594.48 L417.00,594.58 L418.59,594.67 L420.17,594.76 L421.75,594.86 L423.33,594.95 L424.92,595.05 L426.50,595.14" stroke="#008000" stroke-dasharray="1.9,2.9,12.9,2.9"/>
<path d="M300.50,375.32 L301.24,379.82 L301.98,384.57 L302.73,389.46 L303.47,394.38 L304.21,399.24 L304.95,403.93 L305.69,408.35 L306.43,412.39 L307.18,416.01 L307.92,419.25 L308.66,422.17 L309.40,424.86 L310.14,427.36 L310.88,429.76 L311.63,432.12 L312.37,434.49 L313.11,436.90 L313.85,439.36 L314.59,441.87 L315.34,444.40 L316.08,446.98 L316.82,449.58 L317.56,452.22 L318.30,454.88 L319.04,457.57 L319.79,460.28 L320.53,463.00 L321.27,465.74 L322.01,468.50 L322.75,471.26 L323.49,474.03 L324.24,476.81 L324.98,479.58 L325.72,482.36 L326.46,485.13 L327.20,487.89 L327.95,490.64 L328.69,493.38 L329.43,496.10 L330.17,498.80 L330.91,501.48 L331.65,504.14 L332.40,506.77 L333.14,509.37 L333.88,511.94 L334.62,514.47 L335.36,516.96 L336.11,519.41 L336.85,521.82 L337.59,524.18 L338.33,526.49 L339.07,528.74 L339.81,530.94 L340.56,533.08 L341.30,535.16 L342.04,537.18 L342.78,539.13 L343.52,541.02 L344.26,542.85 L345.01,544.63 L345.75,546.35 L346.49,548.00 L347.23,549.58 L347.97,551.10 L348.72,552.55 L349.46,553.94 L350.20,555.29 L350.94,556.58 L351.68,557.83 L352.42,559.03 L353.17,560.16 L353.91,561.22 L354.65,562.22 L355.39,563.13 L356.13,563.96 L356.87,564.70 L357.62,565.35 L358.36,565.89 L359.10,566.33 L359.10,566.23 L360.24,566.96 L361.38,567.70 L362.53,568.43 L363.67,569.17 L364.81,569.91 L365.95,570.66 L367.10,571.40 L368.24,572.14 L369.38,572.89 L370.52,573.63 L371.67,574.37 L372.81,575.10 L373.95,575.84 L375.09,576.56 L376.24,577.29 L377.38,578.00 L378.52,578.71 L379.66,579.42 L380.81,580.11 L381.95,580.80 L383.09,581.48 L384.23,582.15 L385.37,582.80 L386.52,583.45 L387.66,584.08 L388.80,584.70 L389.94,585.31 L391.09,585.90 L392.23,586.48 L393.37,587.04 L394.51,587.59 L395.66,588.12 L396.80,588.63 L397.94,589.12 L399.08,589.59 L400.23,590.05 L401.37,590.48 L402.51,590.89 L403.65,591.29 L404.79,591.65 L405.94,592.00 L407.08,592.33 L408.22,592.63 L409.36,592.90 L410.51,593.16 L411.65,593.38 L412.79,593.58 L413.93,593.76 L415.08,593.90 L416.22,594.02 L417.36,594.11 L418.50,594.17 L419.65,594.20 L420.79,594.21 L421.93,594.18 L423.07,594.12 L424.22,594.03 L425.36,593.90 L426.50,593.74" stroke="#0000ff" stroke-dasharray="6.5,1.5"/>
</g>
<path d="M359.15,479.90 V545.90 M356.25,479.90 h5.8 M356.25,545.90 h5.8" stroke="#222" stroke-width="1.0" fill="none"/>
<circle cx="359.15" cy="512.90" r="5.8" fill="#000"/>
<rect x="206.3" y="375.4" width="220.20" height="220.00" stroke="#1a1a1a" stroke-width="0.95" fill="none"/>
<text class="itk" text-anchor="end" x="196.30" y="601.30" textLength="7.74" lengthAdjust="spacingAndGlyphs">0</text>
<text class="itk" text-anchor="end" x="196.30" y="573.80" textLength="15.47" lengthAdjust="spacingAndGlyphs">20</text>
<text class="itk" text-anchor="end" x="196.30" y="546.30" textLength="15.47" lengthAdjust="spacingAndGlyphs">40</text>
<text class="itk" text-anchor="end" x="196.30" y="518.80" textLength="15.47" lengthAdjust="spacingAndGlyphs">60</text>
<text class="itk" text-anchor="end" x="196.30" y="491.30" textLength="15.47" lengthAdjust="spacingAndGlyphs">80</text>
<text class="itk" text-anchor="end" x="196.30" y="463.80" textLength="23.21" lengthAdjust="spacingAndGlyphs">100</text>
<text class="itk" text-anchor="end" x="196.30" y="436.30" textLength="23.21" lengthAdjust="spacingAndGlyphs">120</text>
<text class="itk" text-anchor="end" x="196.30" y="408.80" textLength="23.21" lengthAdjust="spacingAndGlyphs">140</text>
<text class="itk" text-anchor="end" x="196.30" y="381.30" textLength="23.21" lengthAdjust="spacingAndGlyphs">160</text>
<text class="itk" text-anchor="middle" x="206.30" y="615.90" textLength="15.47" lengthAdjust="spacingAndGlyphs">10</text>
<text class="itk" text-anchor="middle" x="257.25" y="615.90" textLength="15.47" lengthAdjust="spacingAndGlyphs">20</text>
<text class="itk" text-anchor="middle" x="324.60" y="615.90" textLength="15.47" lengthAdjust="spacingAndGlyphs">50</text>
<text class="itk" text-anchor="middle" x="375.55" y="615.90" textLength="23.21" lengthAdjust="spacingAndGlyphs">100</text>
<text class="itk" text-anchor="middle" x="426.50" y="615.90" textLength="23.21" lengthAdjust="spacingAndGlyphs">200</text>
</svg></div></body></html>
